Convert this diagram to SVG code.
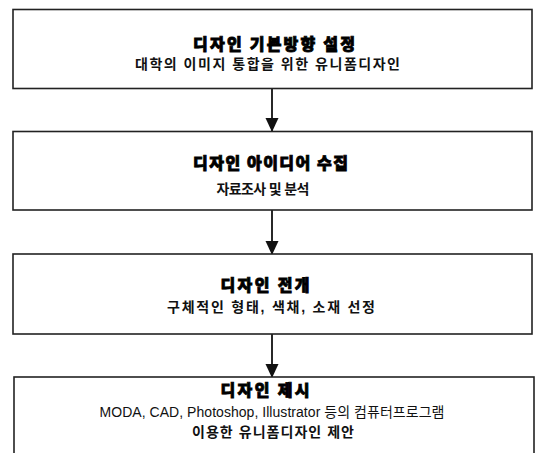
<svg xmlns="http://www.w3.org/2000/svg" width="535" height="453" viewBox="0 0 535 453">
<style>
.box{fill:#fff;stroke:#222;stroke-width:1.6}
.t{font-family:"Noto Sans CJK KR","Liberation Sans",sans-serif;font-weight:900;font-size:16px;fill:#000;stroke:#000;stroke-width:0.8;text-anchor:middle}
.s{font-family:"Liberation Sans","Noto Sans CJK KR",sans-serif;font-weight:bold;font-size:14px;fill:#111;text-anchor:middle}
.n{font-weight:normal}
.c{stroke:#111;stroke-width:1.8;fill:none}
</style>
<defs>
<marker id="ah" markerWidth="14" markerHeight="14" refX="13" refY="7" orient="auto" markerUnits="userSpaceOnUse">
<path d="M0,0.5 L14,7 L0,13.5 Z" fill="#111"/>
</marker>
</defs>
<rect width="535" height="453" fill="#fff"/>
<g id="connectors">
<line class="c" x1="272" y1="89" x2="272" y2="131" marker-end="url(#ah)"/>
<line class="c" x1="272" y1="210" x2="272" y2="254" marker-end="url(#ah)"/>
<line class="c" x1="272" y1="334" x2="272" y2="377" marker-end="url(#ah)"/>
</g>
<g id="node1">
<rect class="box" x="13" y="9.5" width="519" height="79"/>
<text class="t" x="274" y="49.5" textLength="162" lengthAdjust="spacing">디자인 기본방향 설정</text>
<text class="s" x="267.5" y="69.3" textLength="265" lengthAdjust="spacing">대학의 이미지 통합을 위한 유니폼디자인</text>
</g>
<g id="node2">
<rect class="box" x="13" y="131.5" width="519" height="78.5"/>
<text class="t" x="270.5" y="168.5" textLength="155" lengthAdjust="spacing">디자인 아이디어 수집</text>
<text class="s" x="263" y="194.3" textLength="93" lengthAdjust="spacing">자료조사 및 분석</text>
</g>
<g id="node3">
<rect class="box" x="13" y="254" width="519" height="80"/>
<text class="t" x="265" y="290.6" textLength="89" lengthAdjust="spacing">디자인 전개</text>
<text class="s" x="271" y="312" textLength="208" lengthAdjust="spacing">구체적인 형태, 색채, 소재 선정</text>
</g>
<g id="node4">
<rect class="box" x="14" y="377" width="520" height="90"/>
<text class="t" x="265" y="396" textLength="89" lengthAdjust="spacing">디자인 제시</text>
<text class="s n" x="272" y="416.5" textLength="345" lengthAdjust="spacing">MODA, CAD, Photoshop, Illustrator 등의 컴퓨터프로그램</text>
<text class="s" x="273" y="437.3" textLength="162" lengthAdjust="spacing">이용한 유니폼디자인 제안</text>
</g>
</svg>
